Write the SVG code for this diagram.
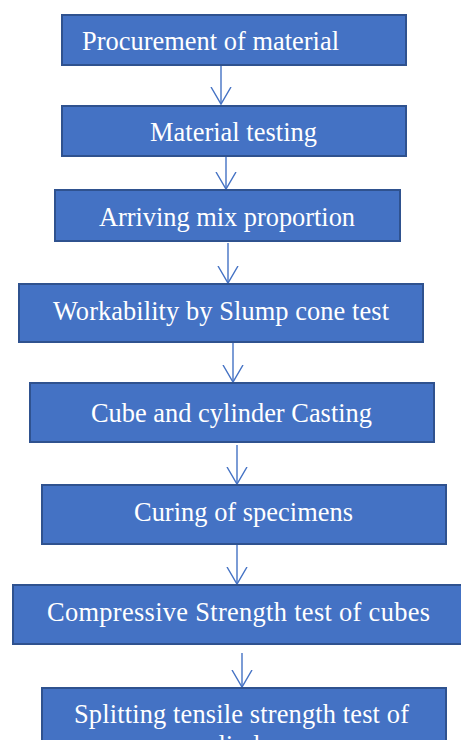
<svg xmlns="http://www.w3.org/2000/svg" width="461" height="740" viewBox="0 0 461 740">
<defs>
<style>
.box{fill:#4472C4;stroke:#2F528F;stroke-width:2}
.lbl{font-family:"Liberation Serif","Times New Roman",serif;font-size:26.4px;fill:#FFFFFF}
.conn{stroke:#4472C4;stroke-width:1.4;fill:none}
</style>
<marker id="arr" markerUnits="userSpaceOnUse" viewBox="0 0 19 22" refX="17.5" refY="11" markerWidth="19" markerHeight="22" orient="auto">
<path d="M0.5,1 L17.5,11 L0.5,21" fill="none" stroke="#4472C4" stroke-width="1.4"/>
</marker>
</defs>
<rect width="461" height="740" fill="#FFFFFF"/>
<g id="connectors">
<line class="conn" x1="221" y1="66" x2="221" y2="104" marker-end="url(#arr)"/>
<line class="conn" x1="226" y1="157" x2="226" y2="189" marker-end="url(#arr)"/>
<line class="conn" x1="228" y1="243" x2="228" y2="283" marker-end="url(#arr)"/>
<line class="conn" x1="233" y1="343" x2="233" y2="382" marker-end="url(#arr)"/>
<line class="conn" x1="237" y1="445" x2="237" y2="484" marker-end="url(#arr)"/>
<line class="conn" x1="237" y1="545" x2="237" y2="584" marker-end="url(#arr)"/>
<line class="conn" x1="242" y1="653" x2="242" y2="687" marker-end="url(#arr)"/>
</g>
<g id="n1"><rect class="box" x="62" y="15" width="344" height="50"/><text class="lbl" x="82" y="50" textLength="257" lengthAdjust="spacing">Procurement of material</text></g>
<g id="n2"><rect class="box" x="62" y="106" width="344" height="50"/><text class="lbl" x="150" y="141" textLength="167" lengthAdjust="spacing">Material testing</text></g>
<g id="n3"><rect class="box" x="55" y="190" width="345" height="51"/><text class="lbl" x="99" y="226" textLength="256" lengthAdjust="spacing">Arriving mix proportion</text></g>
<g id="n4"><rect class="box" x="19" y="284" width="404" height="58"/><text class="lbl" x="53" y="320" textLength="336" lengthAdjust="spacing">Workability by Slump cone test</text></g>
<g id="n5"><rect class="box" x="30" y="383" width="404" height="59"/><text class="lbl" x="91" y="422" textLength="281" lengthAdjust="spacing">Cube and cylinder Casting</text></g>
<g id="n6"><rect class="box" x="42" y="485" width="404" height="59"/><text class="lbl" x="134" y="521" textLength="219" lengthAdjust="spacing">Curing of specimens</text></g>
<g id="n7"><rect class="box" x="13" y="585" width="450" height="59"/><text class="lbl" x="47" y="621" textLength="383" lengthAdjust="spacing">Compressive Strength test of cubes</text></g>
<g id="n8"><rect class="box" x="42" y="688" width="404" height="80"/><text class="lbl" x="74" y="723" textLength="335" lengthAdjust="spacing">Splitting tensile strength test of</text><text class="lbl" x="242" y="754" text-anchor="middle">cylinders</text></g>
</svg>
